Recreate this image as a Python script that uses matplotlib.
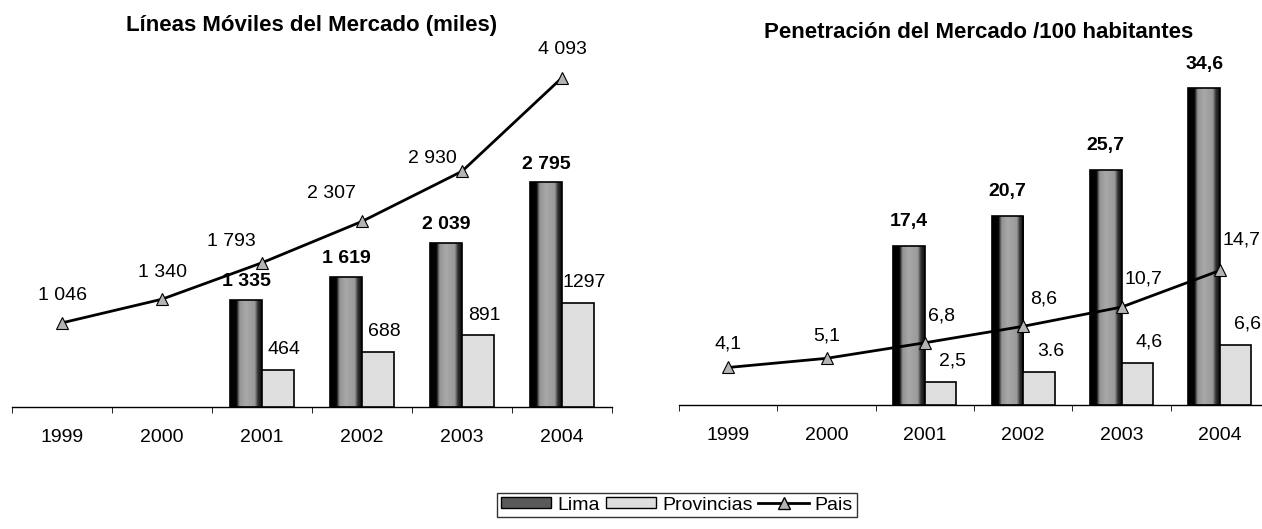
import numpy as np
import matplotlib.pyplot as plt
from matplotlib.lines import Line2D
from matplotlib.patches import Patch

plt.rcParams['font.family'] = ['Liberation Sans', 'DejaVu Sans']

years = ['1999', '2000', '2001', '2002', '2003', '2004']
bar_idx = [2, 3, 4, 5]

# lineas moviles (miles)
lima_miles = [1335, 1619, 2039, 2795]
prov_miles = [464, 688, 891, 1297]
pais_miles = [1046, 1340, 1793, 2307, 2930, 4093]
lima_miles_lbl = ['1 335', '1 619', '2 039', '2 795']
prov_miles_lbl = ['464', '688', '891', '1297']
pais_miles_lbl = ['1 046', '1 340', '1 793', '2 307', '2 930', '4 093']

# penetracion /100 hab
lima_pen = [17.4, 20.7, 25.7, 34.6]
prov_pen = [2.5, 3.6, 4.6, 6.6]
pais_pen = [4.1, 5.1, 6.8, 8.6, 10.7, 14.7]
lima_pen_lbl = ['17,4', '20,7', '25,7', '34,6']
prov_pen_lbl = ['2,5', '3.6', '4,6', '6,6']
pais_pen_lbl = ['4,1', '5,1', '6,8', '8,6', '10,7', '14,7']

W, H = 1262, 529
fig = plt.figure(figsize=(W / 100, H / 100), dpi=100)

# shading across the Lima bars (black left side, grey middle, dark right edge)
grad = np.interp(np.linspace(0, 1, 60), [0, 0.2, 0.3, 0.5, 0.78, 0.88, 1],
                 [0.0, 0.02, 0.58, 0.66, 0.6, 0.2, 0.05]).reshape(1, -1)


def panel(ax, lima, prov, pais, lima_lbl, prov_lbl, pais_lbl, ymax,
          pais_off, lima_dy, prov_off, title, tx, ty):
    x = np.arange(len(years))
    xb = np.array(bar_idx)
    bl = ax.bar(xb - 0.16, lima, 0.32, facecolor='none', edgecolor='black', lw=1.2, zorder=3)
    for p in bl:
        x0, y0 = p.get_x(), p.get_y()
        im = ax.imshow(grad, cmap='gray', vmin=0, vmax=1, aspect='auto', zorder=2,
                       extent=(x0, x0 + p.get_width(), y0, y0 + p.get_height()))
        im.set_clip_path(p)
    ax.bar(xb + 0.16, prov, 0.32, facecolor='#dedede', edgecolor='black', lw=1.2, zorder=3)
    ax.plot(x, pais, color='black', lw=2, marker='^', ms=8, mfc='#b4b4b4', mec='black',
            mew=0.8, zorder=4)

    for xi, v, s in zip(xb - 0.16, lima, lima_lbl):
        ax.annotate(s, (xi, v), xytext=(0, lima_dy), textcoords='offset pixels',
                    ha='center', va='center', fontsize=14, fontweight='bold')
    for xi, v, s in zip(xb + 0.16, prov, prov_lbl):
        ax.annotate(s, (xi, v), xytext=prov_off, textcoords='offset pixels',
                    ha='center', va='center', fontsize=14)
    for xi, v, s, o in zip(x, pais, pais_lbl, pais_off):
        ax.annotate(s, (xi, v), xytext=o, textcoords='offset pixels',
                    ha='center', va='center', fontsize=14)

    ax.set_xlim(-0.5, 5.5)
    ax.set_ylim(0, ymax)
    ax.set_xticks(x)
    ax.set_xticklabels(years, fontsize=14)
    ax.set_xticks(np.arange(-0.5, 6, 1), minor=True)
    ax.tick_params(axis='x', which='major', length=0, pad=16)
    ax.tick_params(axis='x', which='minor', length=4, direction='out')
    ax.set_yticks([])
    for s in ['left', 'top', 'right']:
        ax.spines[s].set_visible(False)
    ax.spines['bottom'].set_linewidth(1)
    fig.text(tx, ty, title, ha='center', va='center', fontsize=16, fontweight='bold')


ax1 = fig.add_axes([12 / W, (H - 407) / H, 600 / W, 362 / H])
panel(ax1, lima_miles, prov_miles, pais_miles, lima_miles_lbl, prov_miles_lbl, pais_miles_lbl,
      4500, [(0, 27), (0, 27), (-31, 21), (-31, 28), (-30, 13), (0, 28)], 18, (6, 20),
      'Líneas Móviles del Mercado (miles)', 312 / W, 1 - 25 / H)

ax2 = fig.add_axes([679 / W, (H - 405) / H, 590 / W, 366 / H])
panel(ax2, lima_pen, prov_pen, pais_pen, lima_pen_lbl, prov_pen_lbl, pais_pen_lbl,
      40, [(0, 23), (0, 22), (17, 27), (20, 27), (22, 28), (22, 30)], 24, (12, 21),
      'Penetración del Mercado /100 habitantes', 979 / W, 1 - 32 / H)

handles = [Patch(facecolor='#5a5a5a', edgecolor='black', label='Lima'),
           Patch(facecolor='#dedede', edgecolor='black', label='Provincias'),
           Line2D([], [], color='black', lw=2, marker='^', ms=8, mfc='#b4b4b4', mec='black',
                  label='Pais')]
leg = fig.legend(handles=handles, loc='center left', bbox_to_anchor=(497 / W, 1 - 505 / H),
                 ncol=3, fontsize=14, frameon=True, fancybox=False, edgecolor='black',
                 handlelength=2.6, handleheight=0.55, handletextpad=0.3, columnspacing=0.3,
                 borderpad=0.2, borderaxespad=0)
leg.get_frame().set_linewidth(1)

fig.savefig('out.png', dpi=100, facecolor='white')
